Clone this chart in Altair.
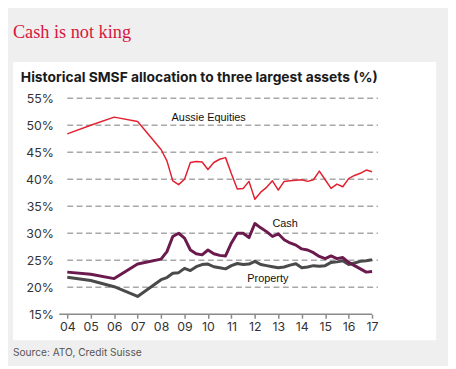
import altair as alt
import pandas as pd

# time axis: annual 2004-2007, quarterly from 2008
t = [2004, 2005, 2006, 2007,
     2008, 2008.25, 2008.5, 2008.75,
     2009, 2009.25, 2009.5, 2009.75,
     2010, 2010.25, 2010.5, 2010.75,
     2011, 2011.25, 2011.5, 2011.75,
     2012, 2012.25, 2012.5, 2012.75,
     2013, 2013.25, 2013.5, 2013.75,
     2014, 2014.25, 2014.5, 2014.75,
     2015, 2015.25, 2015.5, 2015.75,
     2016, 2016.25, 2016.5, 2016.75,
     2017]

equities = [48.4, 50.0, 51.5, 50.7,
            45.5, 43.4, 39.7, 39.0,
            40.0, 43.1, 43.3, 43.2,
            41.8, 43.1, 43.7, 44.0,
            41.0, 38.2, 38.3, 39.6,
            36.3, 37.6, 38.5, 39.7,
            38.0, 39.6, 39.7, 39.8,
            39.9, 39.6, 39.9, 41.5,
            39.9, 38.3, 39.1, 38.6,
            40.1, 40.7, 41.1, 41.7,
            41.4]

cash = [22.8, 22.4, 21.6, 24.3,
        25.2, 26.6, 29.4, 30.0,
        29.1, 26.9, 26.2, 26.0,
        26.9, 26.2, 25.9, 25.8,
        28.2, 30.0, 30.0, 29.2,
        31.8, 31.0, 30.3, 29.4,
        29.9, 28.8, 28.2, 27.8,
        27.1, 26.9, 26.4, 25.7,
        25.3, 25.8, 25.3, 25.5,
        24.6, 24.0, 23.4, 22.8,
        22.9]

property_ = [21.85, 21.25, 20.1, 18.3,
             21.4, 21.8, 22.6, 22.7,
             23.5, 23.1, 23.8, 24.2,
             24.3, 23.8, 23.6, 23.4,
             24.0, 24.4, 24.2, 24.3,
             24.8, 24.2, 24.0, 23.8,
             23.6, 23.75, 24.1, 24.35,
             23.6, 23.75, 24.0, 23.9,
             24.0, 24.6, 24.7, 24.9,
             24.2, 24.5, 24.8, 24.9,
             25.1]

series_names = ["Property", "Cash", "Aussie Equities"]
series_values = [property_, cash, equities]
series_colors = ["#4a4a4a", "#6b1a4e", "#e2202f"]
series_widths = [3, 3, 1.5]

label_text = ["Aussie Equities", "Cash", "Property"]
label_x = [2008.45, 2012.75, 2011.68]
label_y = [51.4, 31.7, 21.6]

y_ticks = [15, 20, 25, 30, 35, 40, 45, 50, 55]
grid_y = [20, 25, 30, 35, 40, 45, 50, 55]
x_ticks = list(range(2004, 2018))

title_text = "Cash is not king"
subtitle_text = "Historical SMSF allocation to three largest assets (%)"
source_text = "Source: ATO, Credit Suisse"

AXFONT = "Inter"

xscale = alt.Scale(domain=[2003.66, 2017.25], nice=False, zero=False)
yscale = alt.Scale(domain=[15, 55], nice=False, zero=False)

xaxis = alt.Axis(values=x_ticks, format="d", labelExpr="substring(datum.label, 2)",
                 title=None, domain=False, grid=False, ticks=True, tickSize=4,
                 tickWidth=1.5, tickColor="#8a8a8a", labelPadding=2, zindex=2,
                 labelFont=AXFONT, labelFontSize=12.5, labelColor="#333333")
yaxis = alt.Axis(values=y_ticks, labelExpr="datum.value + '%'", title=None,
                 domain=False, grid=False, ticks=False, labelPadding=6, zindex=2,
                 labelFont=AXFONT, labelFontSize=12.5, labelColor="#333333")


def X(field):
    return alt.X(field, scale=xscale, axis=xaxis, title=None)


def Y(field):
    return alt.Y(field, scale=yscale, axis=yaxis, title=None)


one = pd.DataFrame({"a": [0]})

panel = alt.Chart(one).mark_rect(color="white").encode(
    x=alt.value(-47), x2=alt.value(382), y=alt.value(-36.7), y2=alt.value(245.3)
)

grid_df = pd.DataFrame({"y": grid_y, "x1": [2004] * len(grid_y), "x2": [2017.25] * len(grid_y)})
grid = alt.Chart(grid_df).mark_rule(color="#a8a8a8", strokeWidth=1.5, strokeDash=[6, 3.5]).encode(
    x=X("x1:Q"), x2="x2:Q", y=Y("y:Q")
)

axis_df = pd.DataFrame({"x1": [2003.66], "x2": [2017.0], "y": [15]})
axis_line = alt.Chart(axis_df).mark_rule(color="#8a8a8a", strokeWidth=1.5).encode(
    x=X("x1:Q"), x2="x2:Q", y=Y("y:Q")
)

layers = [panel, grid, axis_line]
for name, vals, col, w in zip(series_names, series_values, series_colors, series_widths):
    df = pd.DataFrame({"t": t, "v": vals})
    layers.append(
        alt.Chart(df).mark_line(color=col, strokeWidth=w, strokeJoin="round").encode(
            x=X("t:Q"), y=Y("v:Q"), order="t:Q")
    )

lab_df = pd.DataFrame({"text": label_text, "x": label_x, "y": label_y})
labels = alt.Chart(lab_df).mark_text(align="left", baseline="middle", font="Liberation Sans",
                                      fontSize=11, color="#111111").encode(
    x=X("x:Q"), y=Y("y:Q"), text="text:N")
layers.append(labels)

title = alt.Chart(one).mark_text(align="left", baseline="alphabetic", font="Liberation Serif",
                                 fontSize=18.5, color="#d7163c").encode(
    x=alt.value(-47), y=alt.value(-61.5), text=alt.value(title_text))
subtitle = alt.Chart(one).mark_text(align="left", baseline="alphabetic", font=AXFONT,
                                    fontSize=14, fontWeight="bold", color="#1a1a1a").encode(
    x=alt.value(-39), y=alt.value(-16.5), text=alt.value(subtitle_text))
source = alt.Chart(one).mark_text(align="left", baseline="alphabetic", font=AXFONT,
                                  fontSize=10.3, color="#555555").encode(
    x=alt.value(-47), y=alt.value(261.5), text=alt.value(source_text))
layers += [title, subtitle, source]

chart = alt.layer(*layers).properties(
    width=323, height=219,
    autosize=alt.AutoSizeParams(type="none"),
    padding={"left": 52, "top": 89, "right": 71, "bottom": 50},
    background="#efefef",
).configure_view(stroke=None)

chart.save("out.html", embed_options={"renderer": "svg", "actions": False})
